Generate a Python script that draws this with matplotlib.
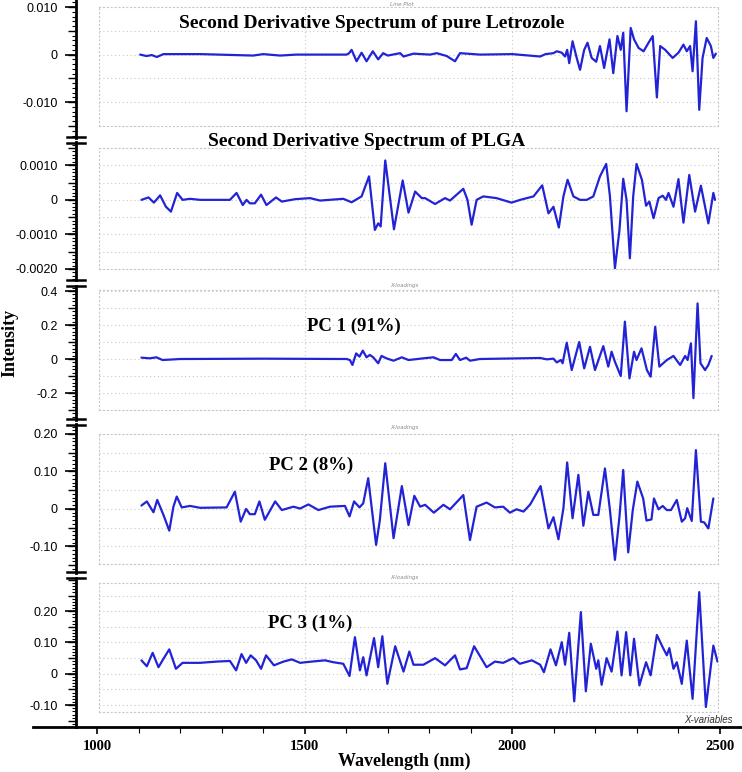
import matplotlib
matplotlib.use("Agg")
import matplotlib.pyplot as plt
from matplotlib.lines import Line2D
from matplotlib.ticker import MultipleLocator, FixedLocator

W_PX, H_PX = 742, 772
BLUE = "#2323d6"
GRID = "#c8c8c8"
SERIF = "Liberation Serif"
SANS = "Liberation Sans"

# ---- data (wavelength in nm) ----
LETROZOLE_WL = [1104, 1119, 1132, 1144, 1160, 1250, 1376, 1400, 1441, 1480,
                1601, 1607, 1613, 1625, 1637, 1649, 1664, 1677, 1689, 1700,
                1730, 1738, 1762, 1802, 1818, 1842, 1862, 1874, 1922, 2000,
                2067, 2080, 2099, 2107, 2119, 2127, 2132, 2137, 2145, 2155,
                2163, 2173, 2181, 2191, 2202, 2211, 2221, 2234, 2243, 2253,
                2261, 2267, 2275, 2285, 2293, 2304, 2316, 2328, 2338, 2348,
                2356, 2368, 2386, 2400, 2412, 2420, 2428, 2434, 2442, 2450,
                2458, 2468, 2478, 2484, 2490]
LETROZOLE_E3 = [0, -0.3, -0.1, -0.5, 0.1, 0.1, -0.2, 0.1, -0.2, 0.0,
                0.0, 0.3, 1.0, -1.4, 0.4, -1.4, 0.7, -1.0, 0.3, -0.2,
                0.3, -0.4, 0.2, 0.0, 0.3, -0.3, -1.4, 0.3, 0.0, 0.1,
                -0.4, 0.1, 0.3, 0.7, 0.4, -0.4, 1.0, -1.8, 2.8, -0.7,
                -3.2, 1.0, 2.5, -0.7, -1.5, 1.8, -2.8, 3.2, -3.9, 3.9,
                1.0, 4.6, -11.9, 5.6, 3.2, 1.4, 0.7, 2.5, 3.9, -9.0,
                1.8, 1.0, -0.7, 0.4, 2.1, 0.7, 1.8, -3.5, 7.0, -11.6,
                -0.7, 3.5, 1.8, -0.7, 0.2]

PLGA_WL = [1107, 1124, 1137, 1152, 1166, 1178, 1193, 1206, 1224, 1248,
           1320, 1336, 1351, 1360, 1368, 1380, 1395, 1408, 1431, 1445,
           1477, 1513, 1537, 1593, 1613, 1637, 1655, 1669, 1677, 1683,
           1694, 1705, 1715, 1736, 1750, 1766, 1782, 1790, 1814, 1838,
           1850, 1882, 1892, 1902, 1914, 1930, 1962, 1998, 2019, 2051,
           2072, 2087, 2099, 2112, 2123, 2133, 2147, 2163, 2179, 2195,
           2211, 2226, 2235, 2247, 2258, 2267, 2275, 2283, 2291, 2299,
           2312, 2322, 2330, 2340, 2352, 2362, 2370, 2376, 2388, 2400,
           2412, 2426, 2440, 2454, 2472, 2484, 2488]
PLGA_E4 = [0, 0.7, -0.8, 1.3, -2.0, -3.4, 2.0, 0, 0.3, 0,
           0, 2.0, -1.5, 0, -1.0, -1.0, 1.5, -1.5, 0.7, -0.5,
           0.2, 0.5, -0.2, 0.3, -0.7, 1.0, 6.8, -8.7, -6.8, -7.7,
           11.4, 1.0, -8.5, 5.6, -3.7, 2.4, 0.5, 0.5, -1.2, 0.5,
           -0.2, 3.2, 0, -7.2, 0, 1.0, 0.5, -0.8, 0, 1.0,
           4.2, -3.9, -2.0, -8.0, 1.0, 5.8, 1.0, 0, 0, 1.0,
           6.8, 10.4, 1.0, -19.8, -8.7, 6.1, 0, -16.9, 1.0, 10.4,
           5.8, -1.7, -0.5, -5.3, 0.5, 1.2, 0, 2.0, -2.0, 6.0,
           -6.6, 7.2, -3.4, 4.1, -6.8, 2.0, 0]

PC1_WL = [1107, 1127, 1143, 1158, 1200, 1400, 1601, 1609, 1615, 1624,
          1632, 1640, 1649, 1657, 1665, 1677, 1685, 1697, 1714, 1734,
          1750, 1786, 1810, 1826, 1854, 1864, 1874, 1889, 1898, 1922,
          2067, 2083, 2099, 2107, 2117, 2121, 2131, 2143, 2161, 2173,
          2187, 2199, 2219, 2231, 2239, 2247, 2261, 2271, 2282, 2293,
          2299, 2311, 2324, 2333, 2344, 2354, 2372, 2388, 2404, 2416,
          2422, 2430, 2436, 2446, 2453, 2464, 2472, 2480]
PC1_E2 = [0.8, 0.4, 1.0, -0.6, 0, 0.2, 0, -0.6, -3.5, 3.3,
          1.4, 4.9, 1.0, 2.4, 1.0, -2.5, 1.8, 0.4, -1.0, 1.0,
          -0.6, 0.4, 1.0, -0.6, -0.6, 3.0, -0.6, 0.8, -1.0, 0,
          0.6, -0.2, 0.2, -2.0, -0.6, -2.5, 9.6, -6.5, 10.0, -5.5,
          7.2, -6.5, 7.6, -4.5, 4.3, -1.6, -10.0, 22.0, -11.4, 4.3,
          -0.6, 6.3, -6.5, -10.4, 19.0, -4.5, -0.6, 1.8, -3.5, 1.8,
          -0.6, 9.2, -23.0, 32.7, -2.5, -6.5, -3.5, 1.8]

PC2_WL = [1107, 1120, 1136, 1145, 1160, 1174, 1184, 1192, 1204, 1224,
          1248, 1312, 1332, 1346, 1359, 1368, 1380, 1391, 1404, 1429,
          1445, 1473, 1489, 1509, 1533, 1561, 1597, 1608, 1619, 1632,
          1641, 1653, 1672, 1681, 1694, 1714, 1734, 1750, 1764, 1778,
          1790, 1811, 1834, 1850, 1882, 1898, 1914, 1938, 1958, 1978,
          1994, 2010, 2027, 2043, 2068, 2087, 2099, 2111, 2123, 2132,
          2145, 2159, 2171, 2183, 2195, 2207, 2223, 2235, 2247, 2258,
          2267, 2279, 2290, 2301, 2315, 2323, 2335, 2341, 2352, 2362,
          2372, 2382, 2396, 2408, 2416, 2421, 2432, 2442, 2454, 2462,
          2472, 2484]
PC2_E2 = [0.9, 2.0, -0.9, 2.4, -1.6, -5.8, 0.6, 3.3, 0.4, 0.8,
          0.3, 0.4, 4.6, -3.4, 0, -1.4, -1.4, 2.0, -2.9, 2.0,
          -0.3, 0.6, 0.1, 1.2, -0.3, 0.6, 0.8, -2.0, 2.0, 0.4,
          1.5, 8.2, -9.6, -3.0, 12.2, -7.8, 6.1, -4.3, 3.5, 0.6,
          1.1, -1.0, 1.1, -0.1, 3.7, -8.3, 0.6, 1.7, 0.4, 0.6,
          -1.0, -0.1, -0.7, 1.2, 6.1, -5.2, -2.2, -8.1, 0.2, 12.4,
          -2.5, 9.1, -4.5, 4.6, -1.6, -1.6, 10.8, -0.3, -13.6, -2.0,
          10.4, -11.6, -0.3, 7.3, 2.8, -3.1, -2.8, 2.8, -0.1, 0.8,
          -0.3, -0.3, 2.4, -3.4, -2.5, 0.2, -3.2, 15.7, -3.4, -3.6,
          -5.2, 2.8]

PC3_WL = [1107, 1120, 1134, 1148, 1160, 1174, 1190, 1206, 1248, 1288,
          1320, 1335, 1348, 1359, 1370, 1383, 1395, 1407, 1426, 1449,
          1469, 1489, 1517, 1549, 1569, 1593, 1608, 1621, 1633, 1641,
          1649, 1667, 1677, 1687, 1699, 1718, 1738, 1752, 1762, 1786,
          1814, 1838, 1862, 1874, 1890, 1908, 1938, 1958, 1978, 2002,
          2018, 2047, 2067, 2076, 2092, 2105, 2119, 2127, 2137, 2149,
          2165, 2177, 2189, 2202, 2207, 2215, 2227, 2239, 2253, 2263,
          2274, 2284, 2293, 2306, 2322, 2333, 2348, 2362, 2372, 2378,
          2388, 2396, 2408, 2420, 2434, 2450, 2466, 2484, 2494]
PC3_E2 = [4.3, 2.4, 6.7, 2.1, 4.8, 7.8, 1.6, 3.5, 3.5, 3.9,
          4.1, 1.1, 6.3, 3.5, 5.9, 4.3, 1.6, 5.9, 2.7, 3.9,
          4.6, 3.5, 3.9, 4.3, 3.7, 3.2, -0.7, 11.7, 1.1, 5.3,
          -0.5, 11.4, 2.1, 12.0, -3.2, 8.8, 0.7, 7.1, 2.9, 2.9,
          5.0, 2.7, 5.9, 1.4, 1.8, 8.8, 2.1, 3.9, 3.5, 5.0,
          3.2, 4.3, 2.9, 0.5, 7.8, 2.7, 10.1, 2.9, 13.1, -8.8,
          19.7, -5.6, 9.6, 1.6, 4.3, -3.5, 5.0, 0.7, 13.5, -0.5,
          13.3, -0.5, 11.2, -3.7, 3.7, -0.5, 12.4, 8.5, 5.9, 8.2,
          1.6, 3.7, -3.2, 10.6, -8.0, 26.1, -10.6, 9.0, 3.9]

TITLES = ["Second Derivative Spectrum of pure Letrozole",
          "Second Derivative Spectrum of PLGA",
          "PC 1 (91%)", "PC 2 (8%)", "PC 3 (1%)"]
TICK_VALUES = [[0.010, 0, -0.010],
               [0.0010, 0, -0.0010, -0.0020],
               [0.4, 0.2, 0, -0.2],
               [0.20, 0.10, 0, -0.10],
               [0.20, 0.10, 0, -0.10]]
TICK_LABELS = [["0.010", "0", "-0.010"],
               ["0.0010", "0", "-0.0010", "-0.0020"],
               ["0.4", "0.2", "0", "-0.2"],
               ["0.20", "0.10", "0", "-0.10"],
               ["0.20", "0.10", "0", "-0.10"]]
X_TICKS = [1000, 1500, 2000, 2500]


def fx(x):
    return x / W_PX


def fy(y):
    return 1 - y / H_PX


def px_axes(fig, x0, y0, x1, y1):
    return fig.add_axes([fx(x0), fy(y1), (x1 - x0) / W_PX, (y1 - y0) / H_PX])


def px2wl(x):
    # 1000 nm sits at pixel column 97, 2500 nm at 720
    return 1000 + (x - 97) * 1500 / (720 - 97)


def value_at(box, ylim, y):
    top, bot = box
    lo, hi = ylim
    return lo + (bot - y) * (hi - lo) / (bot - top)


def main():
    fig = plt.figure(figsize=(W_PX / 100, H_PX / 100), dpi=100)

    series = [
        (LETROZOLE_WL, [v * 1e-3 for v in LETROZOLE_E3]),
        (PLGA_WL, [v * 1e-4 for v in PLGA_E4]),
        (PC1_WL, [v * 1e-2 for v in PC1_E2]),
        (PC2_WL, [v * 1e-2 for v in PC2_E2]),
        (PC3_WL, [v * 1e-2 for v in PC3_E2]),
    ]
    # layout per panel: grid box rows, axis segment rows, limits, steps
    layout = [
        dict(box=(7, 126), seg=(0, 137.5), ylim=(-0.015, 0.010),
             grid=0.005, minor=0.001, mid=0.005, title=(372, 23), fs=14),
        dict(box=(148, 269), seg=(142.5, 280.5), ylim=(-0.002, 0.0015),
             grid=0.0005, minor=0.0001, mid=0.0005, title=(367, 141), fs=14),
        dict(box=(290, 410), seg=(285.5, 419.5), ylim=(-0.3, 0.406),
             grid=0.1, minor=0.02, mid=0.1, title=(354, 326), fs=13.5),
        dict(box=(434, 564), seg=(424.5, 572.5), ylim=(-0.147, 0.2),
             grid=0.05, minor=0.01, mid=0.05, title=(311, 465), fs=13.5),
        dict(box=(583, 712), seg=(577.5, 727), ylim=(-0.122, 0.29),
             grid=0.05, minor=0.01, mid=0.05, title=(310, 623), fs=13.5),
    ]
    xlim = (px2wl(99), px2wl(718))

    for i, ((wl, val), lay) in enumerate(zip(series, layout)):
        ax = px_axes(fig, 99, lay["box"][0], 718, lay["box"][1])
        ax.set_xlim(*xlim)
        ax.set_ylim(*lay["ylim"])
        ax.set_xticks([])
        ax.set_yticks([])
        for sp in ax.spines.values():
            sp.set_linestyle((0, (1, 2.5)))
            sp.set_color(GRID)
            sp.set_linewidth(0.8)
        for xv in (1500, 2000):
            ax.axvline(xv, color=GRID, lw=0.8, ls=(0, (1, 2.5)))
        lo, hi = lay["ylim"]
        k0 = int(lo / lay["grid"]) - 1
        k1 = int(hi / lay["grid"]) + 1
        for k in range(k0, k1 + 1):
            yv = k * lay["grid"]
            if lo < yv < hi:
                ax.axhline(yv, color=GRID, lw=0.8, ls=(0, (1, 2.5)))
        ax.plot(wl, val, color=BLUE, lw=1.6, solid_joinstyle="round",
                solid_capstyle="round")

        # left axis segment with the same scale
        s_top, s_bot = lay["seg"]
        s_lim = (value_at(lay["box"], lay["ylim"], s_bot),
                 value_at(lay["box"], lay["ylim"], s_top))
        axs = px_axes(fig, 76, s_top, 90, s_bot)
        axs.patch.set_visible(False)
        axs.set_ylim(*s_lim)
        axs.set_xticks([])
        for name in ("top", "right", "bottom"):
            axs.spines[name].set_visible(False)
        axs.spines["left"].set_linewidth(2.0)
        axs.set_yticks(TICK_VALUES[i])
        axs.set_yticklabels(TICK_LABELS[i], fontfamily=SANS, fontsize=9)
        axs.yaxis.set_minor_locator(MultipleLocator(lay["minor"]))
        axs.tick_params(axis="y", which="major", length=8, width=1.2,
                        pad=5, direction="out")
        axs.tick_params(axis="y", which="minor", length=3, width=0.8,
                        direction="out")
        axm = px_axes(fig, 76, s_top, 90, s_bot)
        axm.patch.set_visible(False)
        axm.set_ylim(*s_lim)
        axm.set_xticks([])
        for sp in axm.spines.values():
            sp.set_visible(False)
        axm.yaxis.set_major_locator(MultipleLocator(lay["mid"]))
        axm.tick_params(axis="y", length=5.5, width=1.0, labelleft=False)

        tx, ty = lay["title"]
        fig.text(fx(tx), fy(ty), TITLES[i], ha="center", va="center",
                 fontfamily=SERIF, fontweight="bold", fontsize=lay["fs"])

    # axis breaks
    for yb in (140, 283, 422, 575):
        for dy in (-2.6, 2.6):
            fig.add_artist(Line2D([fx(67), fx(85)], [fy(yb + dy)] * 2,
                                  color="black", lw=1.8))

    # bottom wavelength axis
    axb = px_axes(fig, 33, 700, 741, 727)
    axb.patch.set_visible(False)
    axb.set_xlim(px2wl(33), px2wl(741))
    axb.set_yticks([])
    for name in ("top", "right", "left"):
        axb.spines[name].set_visible(False)
    axb.spines["bottom"].set_linewidth(2.0)
    axb.set_xticks(X_TICKS)
    axb.set_xticklabels([str(t) for t in X_TICKS], fontfamily=SERIF,
                        fontweight="bold", fontsize=10.5)
    axb.xaxis.set_minor_locator(FixedLocator(
        [t for t in range(1100, 2500, 100) if t not in X_TICKS]))
    axb.tick_params(axis="x", which="major", length=5, width=1.2, pad=4)
    axb.tick_params(axis="x", which="minor", length=4, width=0.8)

    # small software captions
    fig.text(fx(402), fy(5), "Line Plot", ha="center", va="center",
             fontsize=4, color="#8a8a8a", style="italic")
    for yc in (286, 428, 578):
        fig.text(fx(404), fy(yc), "X-loadings", ha="center", va="center",
                 fontsize=4, color="#8a8a8a", style="italic")
    fig.text(fx(708), fy(720), "X-variables", ha="center", va="center",
             fontsize=7, color="#333333", style="italic", fontfamily=SANS)

    fig.text(fx(10), fy(343), "Intensity", rotation=90, ha="center",
             va="center", fontfamily=SERIF, fontweight="bold", fontsize=13)
    fig.text(fx(404), fy(761), "Wavelength (nm)", ha="center", va="center",
             fontfamily=SERIF, fontweight="bold", fontsize=13)

    fig.savefig("out.png", dpi=100)


if __name__ == "__main__":
    main()
